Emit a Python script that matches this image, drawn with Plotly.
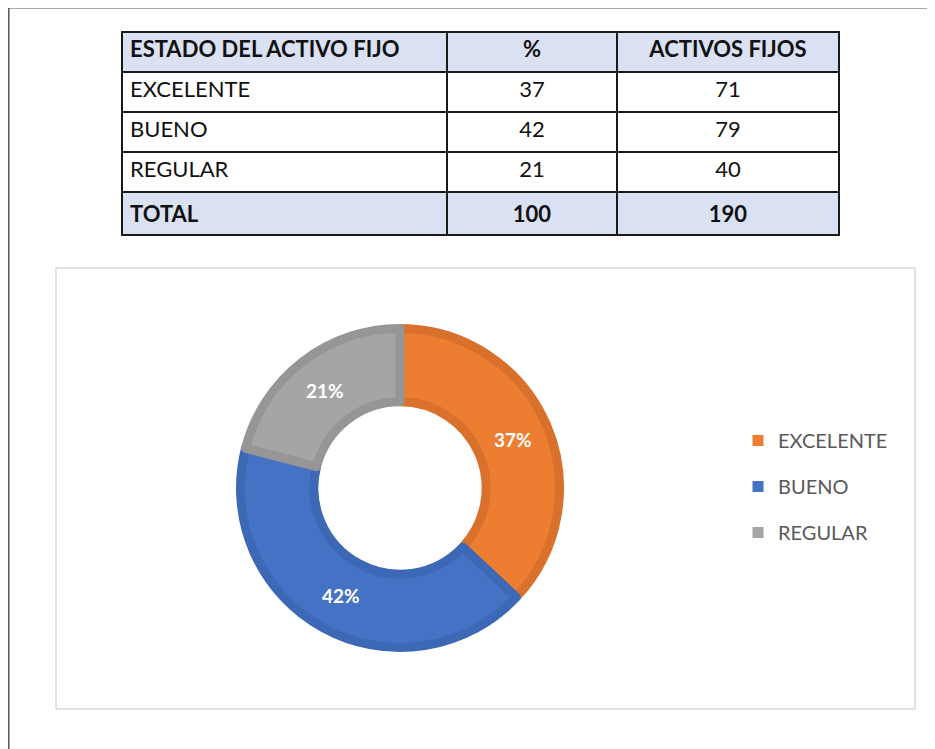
import plotly.graph_objects as go

# ---- data ----
estados = ["EXCELENTE", "BUENO", "REGULAR"]
porcentajes = [37, 42, 21]
activos = [71, 79, 40]
total_label = "TOTAL"
total_pct = 100
total_activos = 190
headers = ["ESTADO DEL ACTIVO FIJO", "%", "ACTIVOS FIJOS"]

colors = ["#ED7D31", "#4472C4", "#A5A5A5"]
edge_colors = ["#D9712D", "#3D68B6", "#969696"]

OFF = 8  # page body margin
W, H = 935 - OFF, 749 - OFF
FONT = "Lato"
HDR = "#D9E1F2"

def px(x):
    return (x - OFF) / W

def py(y):
    return 1 - (y - OFF) / H

fig = go.Figure()

# ---- table ----
col1 = estados + ["<b>" + total_label + "</b>"]
col2 = [str(v) for v in porcentajes] + ["<b>" + str(total_pct) + "</b>"]
col3 = [str(v) for v in activos] + ["<b>" + str(total_activos) + "</b>"]
fill_rows = ["white"] * len(estados) + [HDR]

fig.add_trace(go.Table(
    domain=dict(x=[px(122), px(839)], y=[py(258), py(32)]),
    columnwidth=[325, 170, 222],
    header=dict(
        values=headers,
        fill_color=HDR,
        line=dict(color="#1a1a1a", width=1.5),
        align=["left", "center", "center"],
        font=dict(family=FONT, size=22, color="#111111", weight="bold"),
        height=40,
    ),
    cells=dict(
        values=[col1, col2, col3],
        fill_color=[fill_rows] * 3,
        line=dict(color="#1a1a1a", width=1.5),
        align=["left", "center", "center"],
        font=dict(family=FONT, size=22, color="#111111"),
        height=40,
    ),
))

# ---- donut ----
R = 159.5
CX, CY = 400, 488
fig.add_trace(go.Pie(
    labels=estados,
    values=porcentajes,
    hole=0.54,
    sort=False,
    direction="clockwise",
    rotation=0,
    marker=dict(colors=colors, line=dict(color=edge_colors, width=9)),
    texttemplate="%{value}%",
    textposition="inside",
    insidetextorientation="horizontal",
    textfont=dict(family=FONT, size=19, color="white", weight="bold"),
    domain=dict(x=[px(CX - R), px(CX + R)], y=[py(CY + R), py(CY - R)]),
    showlegend=False,
    hoverinfo="label+percent",
))

# ---- legend entries (one group each for spacing) ----
for name, c in zip(estados, colors):
    fig.add_trace(go.Scatter(
        x=[None], y=[None], mode="markers", name=name,
        marker=dict(symbol="square", size=11, color=c),
        legendgroup=name, showlegend=True,
    ))

fig.update_layout(
    width=W, height=H,
    margin=dict(l=0, r=0, t=0, b=0),
    paper_bgcolor="white",
    plot_bgcolor="white",
    xaxis=dict(visible=False),
    yaxis=dict(visible=False),
    legend=dict(
        x=px(738), y=py(421), xanchor="left", yanchor="top",
        font=dict(family=FONT, size=20, color="#595959"),
        tracegroupgap=17,
        bgcolor="rgba(0,0,0,0)",
    ),
    shapes=[
        dict(type="line", xref="paper", yref="paper",
             x0=px(8.8), x1=px(8.8), y0=py(7.8), y1=py(760),
             line=dict(color="#555555", width=1.5)),
        dict(type="line", xref="paper", yref="paper",
             x0=px(8.8), x1=px(950), y0=py(7.8), y1=py(7.8),
             line=dict(color="#555555", width=1.5)),
        dict(type="rect", xref="paper", yref="paper",
             x0=px(56), x1=px(915), y0=py(709), y1=py(268),
             line=dict(color="#D9D9D9", width=1.5), layer="below"),
    ],
)

fig.write_html("out.html")
